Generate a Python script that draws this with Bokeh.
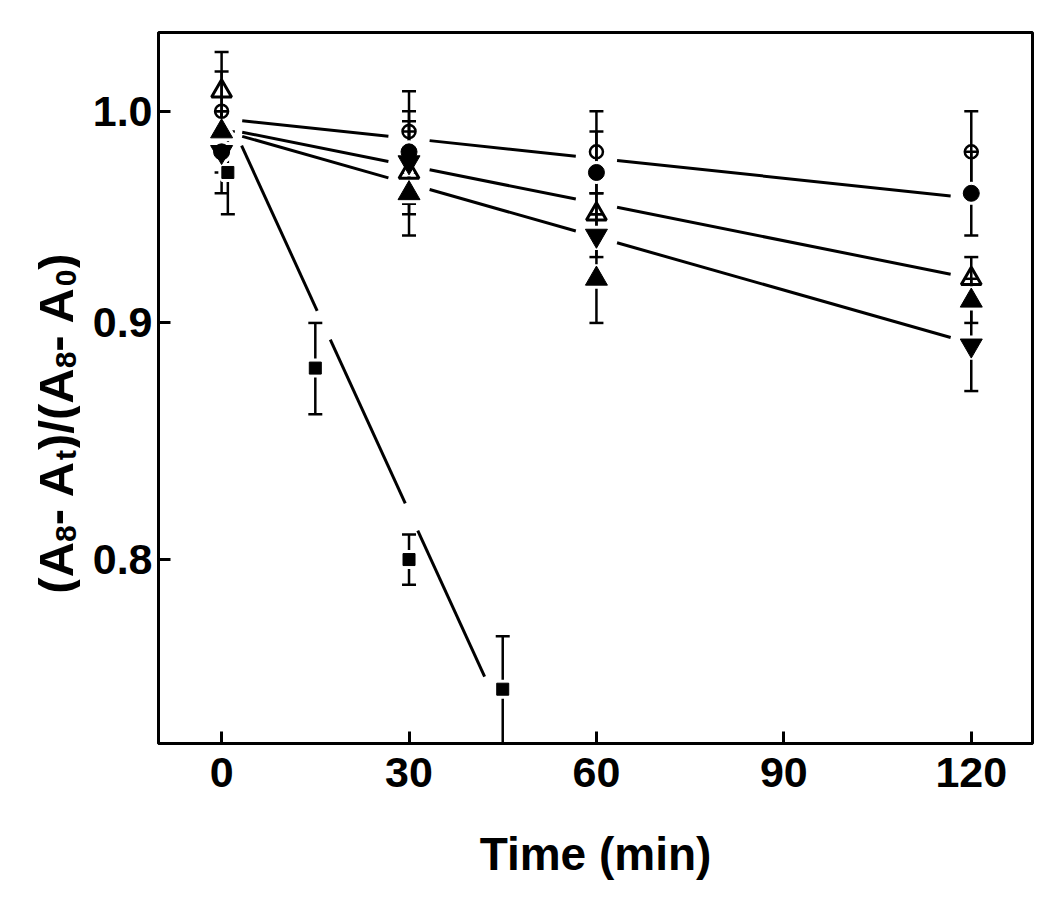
import numpy as np
from bokeh.plotting import figure
from bokeh.layouts import row
from bokeh.models import (Range1d, FixedTicker, PrintfTickFormatter, Whisker,
                          TeeHead, ColumnDataSource)
from bokeh.core.properties import value
from bokeh.embed import file_html
from bokeh.resources import INLINE

# ---------------- data ----------------
times = [0, 30, 60, 120]
open_circle = [1.00, 0.99, 0.98, 0.98]
open_circle_err = [0.02, 0.02, 0.02, 0.02]
filled_circle = [0.98, 0.98, 0.97, 0.96]
filled_circle_err = [0.01, 0.02, 0.02, 0.02]
open_triangle = [1.01, 0.97, 0.95, 0.92]
open_triangle_err = [0.02, 0.02, 0.01, 0.01]
filled_triangle = [0.99, 0.96, 0.92, 0.91]
filled_triangle_err = [0.01, 0.02, 0.02, 0.01]
down_triangle = [0.98, 0.975, 0.94, 0.89]
down_triangle_err = [0.02, 0.02, 0.01, 0.02]
square_times = [1, 15, 30, 45]
square = [0.97, 0.88, 0.80, 0.75]
square_err = [0.02, 0.02, 0.01, 0.02]

# fitted lines (value at start / end time)
fit_a_t = [0, 120]
fit_a_v = [0.9964, 0.9577]
fit_b_t = [0, 120]
fit_b_v = [0.9917, 0.9202]
fit_c_t = [0, 120]
fit_c_v = [0.9905, 0.8909]
fit_sq_t = [0, 45]
fit_sq_v = [1.0046, 0.74]
# visible pieces of the square fit line (time spans)
sq_piece_start = [3.2, 17.4, 31.4]
sq_piece_end = [15.3, 29.4, 42.1]

x_ticks = [0, 30, 60, 90, 120]
y_ticks = [0.8, 0.9, 1.0]

x_title = "Time (min)"
# y title pieces: (text, is_subscript)
y_title = [("(A", False), ("8", True), ("- A", False), ("t", True),
           (")/(A", False), ("8", True), ("- A", False), ("0", True), (")", False)]

FONT = "Liberation Sans"
H = 894
TITLE_W = 80
B_TOP, B_BOTTOM = 32, 151

# ---------------- narrow panel holding the y title ----------------
tp = figure(width=TITLE_W, height=H, output_backend="svg", toolbar_location=None,
            x_range=Range1d(0, TITLE_W), y_range=Range1d(B_BOTTOM, H - B_TOP),
            x_axis_location=None, y_axis_location=None,
            min_border_left=0, min_border_right=0,
            min_border_top=B_TOP, min_border_bottom=B_BOTTOM)
tp.grid.visible = False
tp.outline_line_color = None
tp.background_fill_color = "white"
tp.border_fill_color = "white"

ADV = {"(": 0.333, ")": 0.333, "A": 0.722, "-": 0.333, " ": 0.278, "/": 0.278,
       "8": 0.556, "0": 0.556, "t": 0.333}
MAIN_SIZE, SUB_SIZE = 49, 30
widths = [sum(ADV[c] for c in txt) * (SUB_SIZE if sub else MAIN_SIZE)
          for txt, sub in y_title]
total = sum(widths)
center_y = H - 423          # title centre, px from bottom of the canvas
main_x, sub_x = 55, 65      # baselines, px from left of the canvas
pos = center_y - total / 2
tx, ty, tt, ts = [], [], [], []
for (txt, sub), wdt in zip(y_title, widths):
    tx.append(sub_x if sub else main_x)
    ty.append(pos)
    tt.append(txt)
    ts.append(f"{SUB_SIZE if sub else MAIN_SIZE}px")
    pos += wdt
tp.text(x="x", y="y", text="text", text_font_size="size",
        source=ColumnDataSource(dict(x=tx, y=ty, text=tt, size=ts)),
        angle=np.pi / 2, text_font=value(FONT), text_font_style="bold",
        text_color="black", text_align="left", text_baseline="alphabetic")

# ---------------- main plot ----------------
p = figure(width=1034 - TITLE_W, height=H, output_backend="svg", toolbar_location=None,
           x_range=Range1d(-10.1, 129.8), y_range=Range1d(0.730, 1.040),
           y_axis_type="log",
           min_border_left=158 - TITLE_W, min_border_right=2, min_border_top=B_TOP,
           min_border_bottom=B_BOTTOM)
p.grid.visible = False
p.outline_line_color = "black"
p.outline_line_width = 3
p.outline_line_alpha = 1.0
p.background_fill_color = "white"
p.border_fill_color = "white"

for ax in (p.xaxis[0], p.yaxis[0]):
    ax.axis_line_width = 3
    ax.major_tick_in = 12
    ax.major_tick_out = 0
    ax.major_tick_line_width = 3
    ax.minor_tick_line_color = None
    ax.major_label_text_font = FONT
    ax.major_label_text_font_style = "bold"
    ax.major_label_text_font_size = "43px"
    ax.major_label_text_color = "black"
    ax.axis_label_text_font = FONT
    ax.axis_label_text_font_style = "bold"
    ax.axis_label_text_color = "black"

p.xaxis.ticker = FixedTicker(ticks=x_ticks)
p.yaxis.ticker = FixedTicker(ticks=y_ticks)
p.yaxis.formatter = PrintfTickFormatter(format="%.1f")
p.xaxis.axis_label = x_title
p.xaxis.axis_label_text_font_size = "46px"
p.xaxis.major_label_standoff = 14
p.xaxis.axis_label_standoff = 38
p.yaxis.major_label_standoff = 6


# ---------------- fitted lines ----------------
def fit_value(t_fit, v_fit):
    lt0, lt1 = t_fit
    lv0, lv1 = np.log10(v_fit[0]), np.log10(v_fit[1])
    return lambda t: 10 ** (lv0 + (lv1 - lv0) * (t - lt0) / (lt1 - lt0))


def pieces(t_fit, v_fit, starts, ends):
    f = fit_value(t_fit, v_fit)
    return [[a, b] for a, b in zip(starts, ends)], [[f(a), f(b)] for a, b in zip(starts, ends)]


GAP = 3.3   # fan lines break around each sampling time
all_xs, all_ys = [], []
for tf, vf in ((fit_a_t, fit_a_v), (fit_b_t, fit_b_v), (fit_c_t, fit_c_v)):
    xs, ys = pieces(tf, vf, [t + GAP for t in times[:-1]], [t - GAP for t in times[1:]])
    all_xs += xs
    all_ys += ys
xs, ys = pieces(fit_sq_t, fit_sq_v, sq_piece_start, sq_piece_end)
all_xs += xs
all_ys += ys
p.multi_line(all_xs, all_ys, line_color="black", line_width=3)

# ---------------- error bars ----------------
ex, eu, el = [], [], []
for vals, errs in ((open_circle, open_circle_err), (filled_circle, filled_circle_err),
                   (open_triangle, open_triangle_err), (filled_triangle, filled_triangle_err),
                   (down_triangle, down_triangle_err)):
    for t, v, e in zip(times, vals, errs):
        ex.append(t); eu.append(v + e); el.append(v - e)
for t, v, e in zip(square_times, square, square_err):
    ex.append(t); eu.append(v + e); el.append(v - e)
esrc = ColumnDataSource(dict(x=ex, upper=eu, lower=el))
w = Whisker(source=esrc, base="x", upper="upper", lower="lower", dimension="height",
            line_color="black", line_width=2.5,
            upper_head=TeeHead(size=14, line_width=2.5, line_color="black"),
            lower_head=TeeHead(size=14, line_width=2.5, line_color="black"))
p.add_layout(w)

# ---------------- markers ----------------
for tt_, vals, mk, sz in ((times, filled_circle, "circle", 16),
                          (times, filled_triangle, "triangle", 22),
                          (times, down_triangle, "inverted_triangle", 22),
                          (square_times, square, "square", 12)):
    p.scatter(tt_, vals, marker=mk, size=sz, fill_color="white", line_color="white",
              line_width=7)

p.scatter(times, open_circle, marker="circle", size=13, fill_alpha=0,
          line_color="black", line_width=2.5)
p.scatter(times, open_triangle, marker="triangle", size=20, fill_alpha=0,
          line_color="black", line_width=3)
p.scatter(times, filled_circle, marker="circle", size=16, fill_color="black",
          line_color="black", line_width=1)
p.scatter(times, filled_triangle, marker="triangle", size=22, fill_color="black",
          line_color="black", line_width=1)
p.scatter(times, down_triangle, marker="inverted_triangle", size=22, fill_color="black",
          line_color="black", line_width=1)
p.scatter(square_times, square, marker="square", size=12, fill_color="black",
          line_color="black", line_width=1)

layout = row(tp, p, spacing=0)
open("out.html", "w").write(file_html(layout, INLINE))
